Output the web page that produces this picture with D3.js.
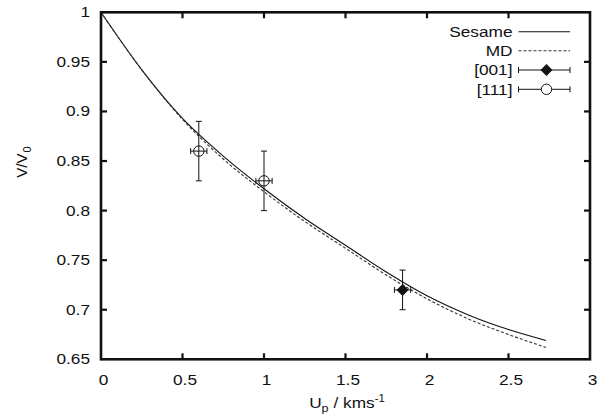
<!DOCTYPE html>
<html><head><meta charset="utf-8">
<script src="https://cdn.jsdelivr.net/npm/d3@7"></script>
<style>
html,body{margin:0;padding:0;background:#fff;}
text{font-family:"Liberation Sans",Arial,Helvetica,sans-serif;fill:#111;}
</style></head>
<body>
<svg id="c" width="597" height="419"></svg>
<script>
// ---- data ----
const upGrid   = [0, 0.25, 0.5, 0.75, 1.0, 1.25, 1.5, 1.75, 2.0, 2.25, 2.5, 2.73];
const sesameV  = [1.0, 0.942, 0.893, 0.855, 0.822, 0.792, 0.765, 0.738, 0.714, 0.695, 0.680, 0.669];
const mdV      = [1.0, 0.942, 0.892, 0.852, 0.819, 0.789, 0.762, 0.735, 0.711, 0.691, 0.675, 0.662];
const pts001   = [{x:1.85, y:0.72, ex:0.05, ey:0.02}];
const pts111   = [{x:0.6, y:0.86, ex:0.05, ey:0.03}, {x:1.0, y:0.83, ex:0.05, ey:0.03}];
const xTicks   = [0, 0.5, 1, 1.5, 2, 2.5, 3];
const yTicks   = [0.65, 0.7, 0.75, 0.8, 0.85, 0.9, 0.95, 1];
const xTickLabels = ["0","0.5","1","1.5","2","2.5","3"];
const yTickLabels = ["0.65","0.7","0.75","0.8","0.85","0.9","0.95","1"];
const legendNames = ["Sesame","MD","[001]","[111]"];

// ---- layout ----
const L=101, R=590, T=12.3, B=359.3;
const SX = 1.15; // horizontal text stretch of the original
const svg = d3.select('#c');
const x = d3.scaleLinear().domain([0,3]).range([L,R]);
const y = d3.scaleLinear().domain([0.65,1]).range([B,T]);

function txt(g, px, py, anchor, size){
  return g.append('text')
    .attr('transform', `translate(${px},${py}) scale(${SX},1)`)
    .attr('text-anchor', anchor)
    .attr('font-size', size||15);
}

// curves
const line = d3.line().x(d=>x(d[0])).y(d=>y(d[1])).curve(d3.curveMonotoneX);
const sesame = upGrid.map((u,i)=>[u, sesameV[i]]);
const md = upGrid.map((u,i)=>[u, mdV[i]]);
svg.append('path').attr('d', line(sesame)).attr('fill','none').attr('stroke','#111').attr('stroke-width',1.1);
svg.append('path').attr('d', line(md)).attr('fill','none').attr('stroke','#333').attr('stroke-width',1.1).attr('stroke-dasharray','3,2');

// error bars
function errBars(data){
  const g = svg.append('g').attr('stroke','#111').attr('stroke-width',1).attr('fill','none');
  data.forEach(d=>{
    const cx=x(d.x), cy=y(d.y);
    g.append('line').attr('x1',cx).attr('x2',cx).attr('y1',y(d.y-d.ey)).attr('y2',y(d.y+d.ey));
    g.append('line').attr('x1',cx-3).attr('x2',cx+3).attr('y1',y(d.y-d.ey)).attr('y2',y(d.y-d.ey));
    g.append('line').attr('x1',cx-3).attr('x2',cx+3).attr('y1',y(d.y+d.ey)).attr('y2',y(d.y+d.ey));
    g.append('line').attr('x1',x(d.x-d.ex)).attr('x2',x(d.x+d.ex)).attr('y1',cy).attr('y2',cy);
    g.append('line').attr('x1',x(d.x-d.ex)).attr('x2',x(d.x-d.ex)).attr('y1',cy-3).attr('y2',cy+3);
    g.append('line').attr('x1',x(d.x+d.ex)).attr('x2',x(d.x+d.ex)).attr('y1',cy-3).attr('y2',cy+3);
  });
}
errBars(pts111); errBars(pts001);
function diamond(g,cx,cy){ g.append('path').attr('d',`M${cx},${cy-6}L${cx+6},${cy}L${cx},${cy+6}L${cx-6},${cy}Z`).attr('fill','#111'); }
function circ(g,cx,cy){ g.append('circle').attr('cx',cx).attr('cy',cy).attr('r',5.2).attr('fill','none').attr('stroke','#111').attr('stroke-width',1); }
pts001.forEach(d=>diamond(svg,x(d.x),y(d.y)));
pts111.forEach(d=>circ(svg,x(d.x),y(d.y)));

// frame
svg.append('rect').attr('x',L).attr('y',T).attr('width',R-L).attr('height',B-T)
  .attr('fill','none').attr('stroke','#111').attr('stroke-width',2.6);

// ticks
const tg = svg.append('g').attr('stroke','#111').attr('stroke-width',2.2);
xTicks.slice(1,-1).forEach(t=>{
  tg.append('line').attr('x1',x(t)).attr('x2',x(t)).attr('y1',B).attr('y2',B-6);
  tg.append('line').attr('x1',x(t)).attr('x2',x(t)).attr('y1',T).attr('y2',T+6);
});
yTicks.slice(1,-1).forEach(t=>{
  tg.append('line').attr('x1',L).attr('x2',L+6).attr('y1',y(t)).attr('y2',y(t));
  tg.append('line').attr('x1',R).attr('x2',R-6).attr('y1',y(t)).attr('y2',y(t));
});
xTicks.forEach((t,i)=>txt(svg, x(t)+2.5, 385, 'middle').text(xTickLabels[i]));
yTicks.forEach((t,i)=>txt(svg, 90, y(t)+5, 'end').text(yTickLabels[i]));

// axis labels
const yl = svg.append('text').attr('transform','translate(27,162) rotate(-90) scale(1,1)')
  .attr('text-anchor','middle').attr('font-size',15);
yl.append('tspan').text('V/V');
yl.append('tspan').attr('font-size',11).attr('dy',4).attr('dx',1).text('0');
const xl = txt(svg, 347, 408, 'middle');
xl.append('tspan').text('U');
xl.append('tspan').attr('font-size',11).attr('dy',4).text('p');
xl.append('tspan').attr('dy',-4).text(' / kms');
xl.append('tspan').attr('font-size',10).attr('dy',-6).text('-1');

// legend
const rows=[31.7, 50.7, 70, 89.3];
const lx1=518.5, lx2=570, lmid=546.5;
legendNames.forEach((n,i)=>txt(svg, 512.5, rows[i]+5.2, 'end').text(n));
svg.append('line').attr('x1',lx1).attr('x2',lx2).attr('y1',rows[0]).attr('y2',rows[0]).attr('stroke','#111').attr('stroke-width',1.1);
svg.append('line').attr('x1',lx1).attr('x2',lx2).attr('y1',rows[1]).attr('y2',rows[1]).attr('stroke','#333').attr('stroke-width',1.1).attr('stroke-dasharray','3,2');
[2,3].forEach(i=>{
  const g=svg.append('g').attr('stroke','#111').attr('stroke-width',1);
  g.append('line').attr('x1',lx1).attr('x2',lx2).attr('y1',rows[i]).attr('y2',rows[i]);
  g.append('line').attr('x1',lx1).attr('x2',lx1).attr('y1',rows[i]-3).attr('y2',rows[i]+3);
  g.append('line').attr('x1',lx2).attr('x2',lx2).attr('y1',rows[i]-3).attr('y2',rows[i]+3);
});
diamond(svg,lmid,rows[2]);
svg.append('circle').attr('cx',lmid).attr('cy',rows[3]).attr('r',5.2).attr('fill','#fff').attr('stroke','#111').attr('stroke-width',1);
</script>
</body></html>
